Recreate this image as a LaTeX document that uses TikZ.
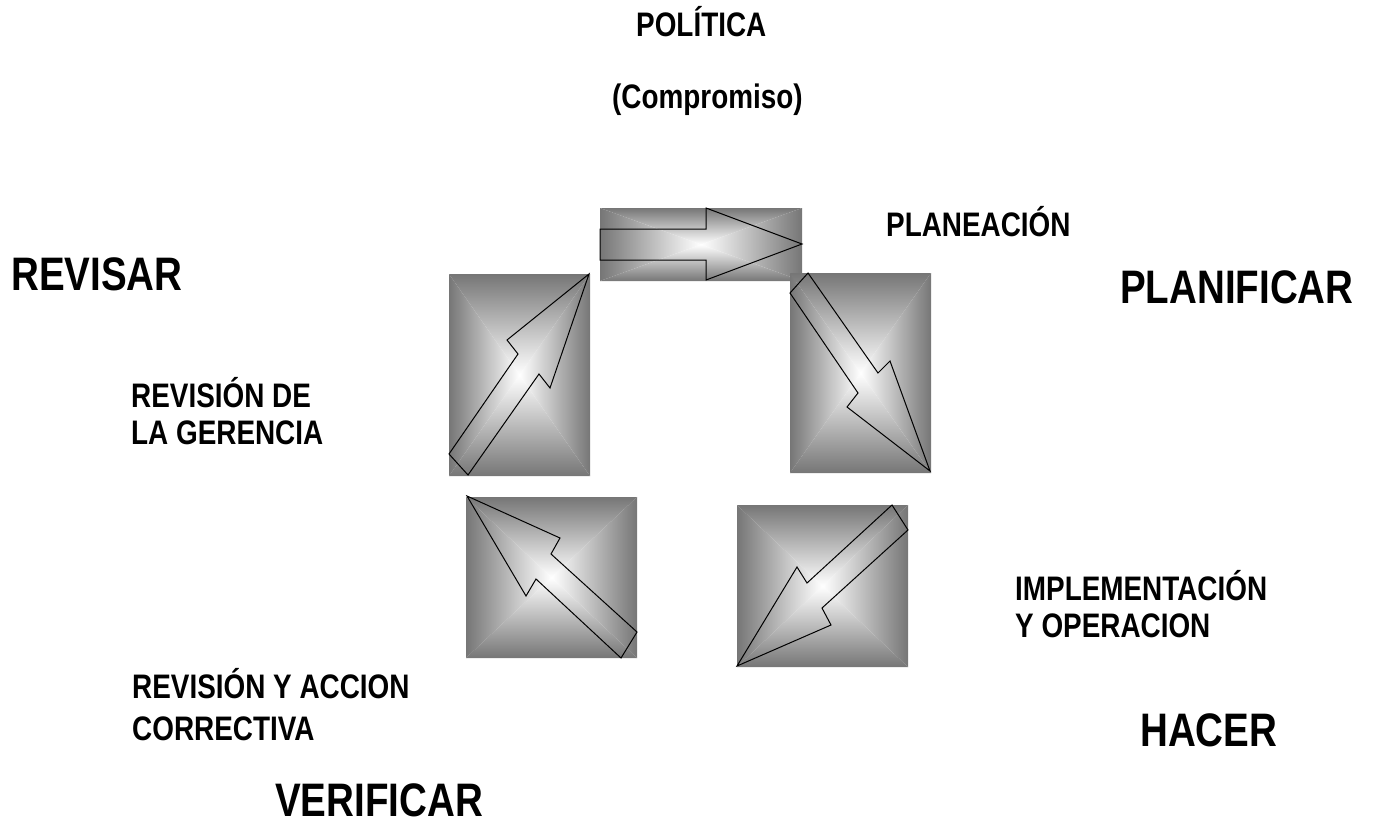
\documentclass[tikz,border=0pt]{standalone}
\usepackage{fontspec}
\setmainfont[FakeStretch=0.82]{Liberation Sans}
\usepackage{tikz}
\definecolor{boxgray}{RGB}{118,118,118}

\begin{document}
\begin{tikzpicture}[x=1pt,y=-1pt,
  smalltext/.style={anchor=base west,inner sep=0pt,align=left,font=\bfseries\fontsize{34}{37}\selectfont},
  bigtext/.style={anchor=base west,inner sep=0pt,font=\bfseries\fontsize{47}{52}\selectfont},
  arrowline/.style={draw=black,line width=1pt,line join=miter}]
\useasboundingbox (0,0) rectangle (1377,825);
% Draw the shaded boxes (gradient from the centre outwards)
\foreach \xa/\ya/\xb/\yb in {600/208/802/281,449/274/590/476,790/273/931/473,466/497/637/658,737/505/908/667} {
  \coordinate (mid) at ({(\xa+\xb)/2},{(\ya+\yb)/2});
  \shade[top color=boxgray,bottom color=white] (\xa,\ya) -- (\xb,\ya) -- (mid) -- cycle;
  \shade[top color=white,bottom color=boxgray] (\xa,\yb) -- (\xb,\yb) -- (mid) -- cycle;
  \shade[left color=boxgray,right color=white] (\xa,\ya) -- (\xa,\yb) -- (mid) -- cycle;
  \shade[left color=white,right color=boxgray] (\xb,\ya) -- (\xb,\yb) -- (mid) -- cycle;
}
% Draw the arrow outlines
\draw[arrowline] (600,229) -- (706,229) -- (706,208) -- (802,244) -- (706,280) -- (706,260) -- (600,260) -- cycle;
\draw[arrowline] (808,273) -- (878,373) -- (890,361) -- (930,471) -- (847,407) -- (858,393) -- (790,293) -- cycle;
\draw[arrowline] (892,505) -- (807,583) -- (797,567) -- (737,666) -- (831,625) -- (822,608) -- (908,530) -- cycle;
\draw[arrowline] (467,496) -- (560,538) -- (551,554) -- (637,632) -- (621,658) -- (536,579) -- (526,596) -- cycle;
\draw[arrowline] (449,454) -- (518,354) -- (507,340) -- (589,274) -- (550,388) -- (539,374) -- (468,475) -- cycle;
% Add labels (multi-line nodes sit on their last baseline)
\node[smalltext] (politica) at (636,36) {POLÍTICA};
\node[smalltext] (compromiso) at (612,108) {(Compromiso)};
\node[smalltext] (planeacion) at (886,236) {PLANEACIÓN};
\node[bigtext] (planificar) at (1120,303) {PLANIFICAR};
\node[bigtext] (revisar) at (11,290) {REVISAR};
\node[smalltext] (gerencia) at (131,444) {REVISIÓN DE\\LA GERENCIA};
\node[smalltext] (implementacion) at (1015,637) {IMPLEMENTACIÓN\\Y OPERACION};
\node[bigtext] (hacer) at (1140,746) {HACER};
\node[smalltext,font=\bfseries\fontsize{34}{42}\selectfont] (correctiva) at (132,740) {REVISIÓN Y ACCION\\CORRECTIVA};
\node[bigtext] (verificar) at (275,816) {VERIFICAR};
\end{tikzpicture}
\end{document}
